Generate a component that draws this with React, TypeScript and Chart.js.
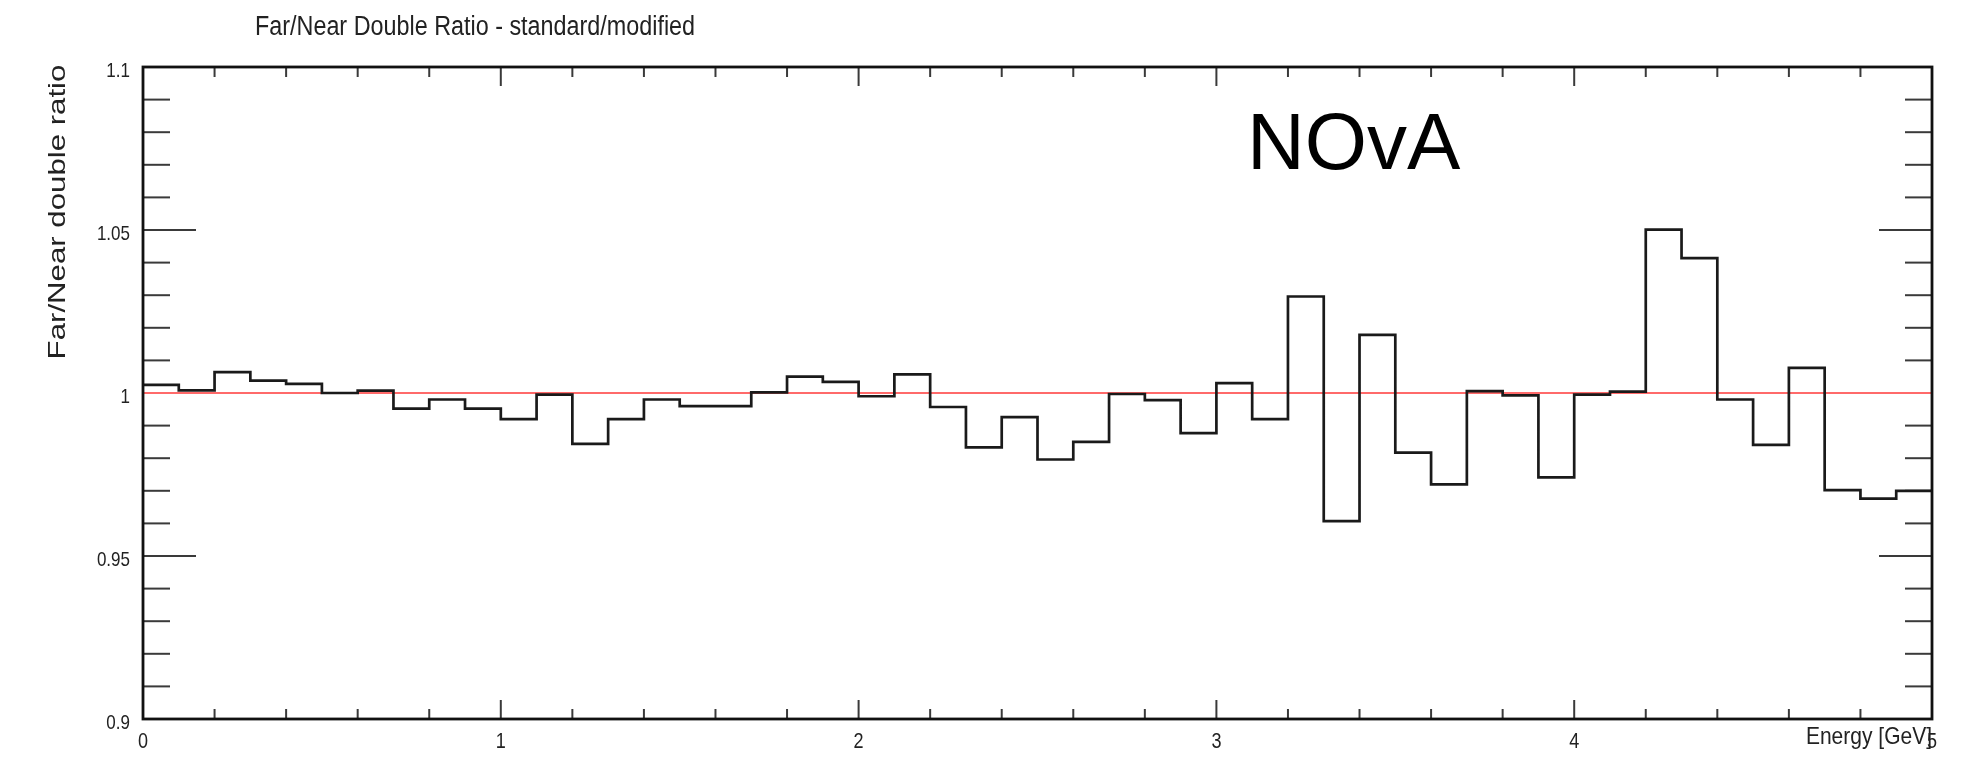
import React, { useEffect, useRef } from "react";
import { Chart, registerables } from "chart.js";

Chart.register(...registerables);

// ---- data ----
const binEdges = [
  0.0, 0.1, 0.2, 0.3, 0.4, 0.5, 0.6, 0.7, 0.8, 0.9,
  1.0, 1.1, 1.2, 1.3, 1.4, 1.5, 1.6, 1.7, 1.8, 1.9,
  2.0, 2.1, 2.2, 2.3, 2.4, 2.5, 2.6, 2.7, 2.8, 2.9,
  3.0, 3.1, 3.2, 3.3, 3.4, 3.5, 3.6, 3.7, 3.8, 3.9,
  4.0, 4.1, 4.2, 4.3, 4.4, 4.5, 4.6, 4.7, 4.8, 4.9,
  5.0,
];

const doubleRatio = [
  1.0025, 1.0008, 1.0064, 1.0038, 1.0028, 1.0, 1.0007, 0.9952, 0.998, 0.9952,
  0.992, 0.9995, 0.9844, 0.992, 0.998, 0.996, 0.996, 1.0002, 1.005, 1.0034,
  0.999, 1.0057, 0.9957, 0.9833, 0.9926, 0.9796, 0.985, 0.9997, 0.9978, 0.9877,
  1.003, 0.992, 1.0296, 0.9607, 1.0178, 0.9817, 0.972, 1.0006, 0.9993, 0.9741,
  0.9995, 1.0004, 1.0501, 1.0414, 0.998, 0.9841, 1.0077, 0.9702, 0.9676, 0.97,
];

const referenceX = [0, 5];
const referenceY = [1, 1];

const xMajorTicks = [0, 1, 2, 3, 4, 5];
const xTickLabels = ["0", "1", "2", "3", "4", "5"];
const xMinorStep = 0.2;

const yMajorTicks = [0.9, 0.95, 1, 1.05, 1.1];
const yTickLabels = ["0.9", "0.95", "1", "1.05", "1.1"];
const yMinorStep = 0.01;

const chartTitle = "Far/Near Double Ratio - standard/modified";
const yAxisTitle = "Far/Near double ratio";
const xAxisTitle = "Energy [GeV]";
const experimentLabel = "NOvA";

const SANS = '"Liberation Sans", Arial, Helvetica, sans-serif';

function drawText(
  ctx: CanvasRenderingContext2D,
  text: string,
  x: number,
  y: number,
  size: number,
  opts: { sx?: number; align?: CanvasTextAlign; rot?: number; color?: string } = {}
) {
  ctx.save();
  ctx.translate(x, y);
  if (opts.rot) ctx.rotate(opts.rot);
  ctx.scale(opts.sx ?? 1, 1);
  ctx.font = `${size}px ${SANS}`;
  ctx.textAlign = opts.align ?? "left";
  ctx.textBaseline = "alphabetic";
  ctx.fillStyle = opts.color ?? "#222";
  ctx.fillText(text, 0, 0);
  ctx.restore();
}

const rootStylePlugin = {
  id: "rootStyle",
  beforeDatasetsDraw(chart: any) {
    const { ctx, chartArea: a, scales } = chart;
    const xs = scales.x;
    const ys = scales.y;
    ctx.save();
    const line = (x1: number, y1: number, x2: number, y2: number) => {
      ctx.beginPath();
      ctx.moveTo(x1, y1);
      ctx.lineTo(x2, y2);
      ctx.stroke();
    };
    ctx.strokeStyle = "#3a3a3a";
    ctx.lineWidth = 2;
    // x ticks (inside, bottom and top)
    const xMin = xMajorTicks[0];
    const xMax = xMajorTicks[xMajorTicks.length - 1];
    const nx = Math.round((xMax - xMin) / xMinorStep);
    for (let k = 0; k <= nx; k++) {
      const v = xMin + k * xMinorStep;
      const px = xs.getPixelForValue(v);
      const major = xMajorTicks.some((m) => Math.abs(m - v) < 1e-6);
      const len = major ? 19 : 10;
      line(px, a.bottom, px, a.bottom - len);
      line(px, a.top, px, a.top + len);
    }
    // y ticks (inside, left and right)
    const yMin = yMajorTicks[0];
    const yMax = yMajorTicks[yMajorTicks.length - 1];
    const ny = Math.round((yMax - yMin) / yMinorStep);
    for (let k = 0; k <= ny; k++) {
      const v = yMin + k * yMinorStep;
      const py = ys.getPixelForValue(v);
      const major = yMajorTicks.some((m) => Math.abs(m - v) < 1e-6);
      const len = major ? 53 : 27;
      line(a.left, py, a.left + len, py);
      line(a.right, py, a.right - len, py);
    }
    ctx.restore();
  },
  afterDraw(chart: any) {
    const { ctx, chartArea: a, scales } = chart;
    const xs = scales.x;
    const ys = scales.y;
    // frame
    ctx.save();
    ctx.strokeStyle = "#111";
    ctx.lineWidth = 2.8;
    ctx.strokeRect(a.left, a.top, a.right - a.left, a.bottom - a.top);
    ctx.restore();

    // tick labels
    yMajorTicks.forEach((v, i) => {
      drawText(ctx, yTickLabels[i], a.left - 13, ys.getPixelForValue(v) + 10, 21, {
        sx: 0.81,
        align: "right",
        color: "#222",
      });
    });
    xMajorTicks.forEach((v, i) => {
      drawText(ctx, xTickLabels[i], xs.getPixelForValue(v), a.bottom + 29, 22, {
        sx: 0.82,
        align: "center",
        color: "#222",
      });
    });

    // titles
    drawText(ctx, chartTitle, 255, 35, 27, { sx: 0.865, color: "#222" });
    drawText(ctx, xAxisTitle, a.right, a.bottom + 25, 24, {
      sx: 0.875,
      align: "right",
      color: "#222",
    });
    drawText(ctx, yAxisTitle, 65, 212, 24, {
      sx: 1.3,
      align: "center",
      rot: -Math.PI / 2,
      color: "#222",
    });
    drawText(ctx, experimentLabel, 1247, 169, 80, { color: "#000" });
  },
};

export default function App() {
  const canvasRef = useRef<HTMLCanvasElement | null>(null);

  useEffect(() => {
    if (!canvasRef.current) return;
    const histPoints = binEdges.map((e, i) => ({
      x: e,
      y: doubleRatio[Math.min(i, doubleRatio.length - 1)],
    }));
    const refPoints = referenceX.map((x, i) => ({ x, y: referenceY[i] }));

    const chart = new Chart(canvasRef.current, {
      type: "line",
      data: {
        datasets: [
          {
            label: "double ratio",
            data: histPoints,
            stepped: "before",
            borderColor: "#1a1a1a",
            borderWidth: 2.7,
            pointRadius: 0,
            fill: false,
            order: 0,
          },
          {
            label: "unity",
            data: refPoints,
            borderColor: "#ff6a6a",
            borderWidth: 2.2,
            pointRadius: 0,
            fill: false,
            order: 1,
          },
        ],
      },
      options: {
        animation: false,
        responsive: false,
        devicePixelRatio: 1,
        layout: { padding: { left: 143, top: 67, right: 41, bottom: 45 } },
        plugins: {
          legend: { display: false },
          tooltip: { enabled: false },
          title: { display: false },
        },
        scales: {
          x: { type: "linear", min: 0, max: 5, display: false },
          y: { type: "linear", min: 0.9, max: 1.1, display: false },
        },
      },
      plugins: [rootStylePlugin],
    });
    return () => chart.destroy();
  }, []);

  return (
    <div style={{ position: "fixed", left: 0, top: 0, width: 1973, height: 764, background: "#fff" }}>
      <canvas ref={canvasRef} width={1973} height={764} style={{ display: "block" }} />
    </div>
  );
}
